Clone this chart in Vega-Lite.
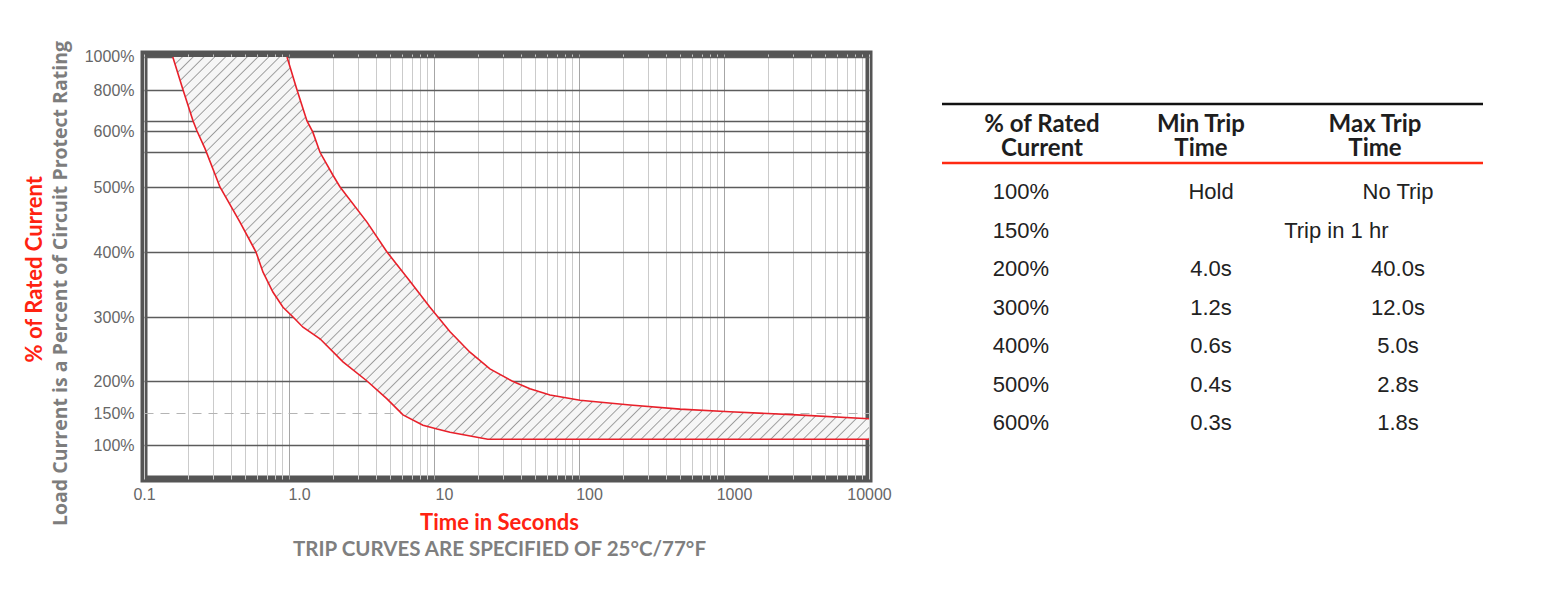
{
"$schema": "https://vega.github.io/schema/vega-lite/v6.json",
"padding": {"left": 23, "top": 36, "right": 60, "bottom": 20},
"background": "white",
"bounds": "flush",
"spacing": 73,
"config": {"view": {"stroke": null}, "font": "Liberation Sans"},
"title": {"text": "% of Rated Current", "orient": "left", "anchor": "middle", "font": "Lato", "fontSize": 22, "fontWeight": "bold", "color": "#ff2211", "offset": 0, "dx": 31},
"datasets": {
"band": [
{"current":1000,"tmin":0.158,"tmax":0.969},
{"current":800,"tmin":0.186,"tmax":1.136},
{"current":649,"tmin":0.218,"tmax":1.33},
{"current":600,"tmin":0.232,"tmax":1.46},
{"current":562,"tmin":0.267,"tmax":1.636},
{"current":521,"tmin":0.309,"tmax":2.01},
{"current":500,"tmin":0.334,"tmax":2.25},
{"current":446,"tmin":0.459,"tmax":3.45},
{"current":400,"tmin":0.592,"tmax":4.74},
{"current":355,"tmin":0.705,"tmax":6.83},
{"current":315,"tmin":0.909,"tmax":9.38},
{"current":300,"tmin":1.066,"tmax":10.66},
{"current":277,"tmin":1.40,"tmax":12.9},
{"current":245,"tmin":2.01,"tmax":17.7},
{"current":219,"tmin":2.72,"tmax":24.3},
{"current":200,"tmin":3.45,"tmax":34.5},
{"current":188,"tmin":3.98,"tmax":45.9},
{"current":178,"tmin":4.45,"tmax":63.1},
{"current":170,"tmin":4.83,"tmax":101.7},
{"current":162,"tmin":5.26,"tmax":225},
{"current":156,"tmin":5.56,"tmax":498},
{"current":152,"tmin":5.83,"tmax":1100},
{"current":147,"tmin":6.11,"tmax":3185},
{"current":141,"tmin":6.93,"tmax":10000},
{"current":131,"tmin":8.39,"tmax":10000},
{"current":125,"tmin":10.5,"tmax":10000},
{"current":120,"tmin":12.9,"tmax":10000},
{"current":109,"tmin":23.5,"tmax":10000}
],
"minCurve": [
{"t":0.158,"current":1000},{"t":0.186,"current":800},{"t":0.218,"current":649},{"t":0.232,"current":600},
{"t":0.264,"current":568},{"t":0.334,"current":500},{"t":0.459,"current":446},{"t":0.592,"current":400},
{"t":0.662,"current":369},{"t":0.776,"current":338},{"t":0.909,"current":315},{"t":1.066,"current":300},
{"t":1.249,"current":284},{"t":1.636,"current":266},{"t":2.357,"current":230},{"t":3.45,"current":200},
{"t":4.74,"current":172},{"t":6.11,"current":147},{"t":8.39,"current":131},{"t":10.5,"current":125},
{"t":12.9,"current":120},{"t":23.5,"current":109},{"t":10000,"current":109}
],
"maxCurve": [
{"t":0.969,"current":1000},{"t":1.136,"current":800},{"t":1.33,"current":649},{"t":1.46,"current":598},
{"t":1.636,"current":562},{"t":2.01,"current":521},{"t":2.25,"current":500},{"t":3.45,"current":446},
{"t":4.74,"current":400},{"t":6.83,"current":355},{"t":9.38,"current":315},{"t":12.9,"current":277},
{"t":17.7,"current":245},{"t":24.3,"current":219},{"t":34.5,"current":200},{"t":45.9,"current":188},
{"t":63.1,"current":178},{"t":101.7,"current":170},{"t":225,"current":162.5},{"t":498,"current":156},
{"t":1100,"current":152},{"t":3185,"current":147},{"t":10000,"current":141}
],
"rules": [{"line":0,"kind":"top"},{"line":2,"kind":"sep"}],
"header": [
{"line":1,"col":1,"text":"% of Rated\nCurrent"},
{"line":1,"col":2,"text":"Min Trip\nTime"},
{"line":1,"col":3,"text":"Max Trip\nTime"}
],
"cells": [
{"line":3,"col":1,"text":"100%"},{"line":3,"col":2,"text":"Hold"},{"line":3,"col":3,"text":"No Trip"},
{"line":4,"col":1,"text":"150%"},{"line":4,"col":2.67,"text":"Trip in 1 hr"},
{"line":5,"col":1,"text":"200%"},{"line":5,"col":2,"text":"4.0s"},{"line":5,"col":3,"text":"40.0s"},
{"line":6,"col":1,"text":"300%"},{"line":6,"col":2,"text":"1.2s"},{"line":6,"col":3,"text":"12.0s"},
{"line":7,"col":1,"text":"400%"},{"line":7,"col":2,"text":"0.6s"},{"line":7,"col":3,"text":"5.0s"},
{"line":8,"col":1,"text":"500%"},{"line":8,"col":2,"text":"0.4s"},{"line":8,"col":3,"text":"2.8s"},
{"line":9,"col":1,"text":"600%"},{"line":9,"col":2,"text":"0.3s"},{"line":9,"col":3,"text":"1.8s"}
]
},
"hconcat": [
{
"width": 725,
"height": 425,
"view": {"stroke": "#555555", "strokeWidth": 7},
"title": {"text": "Time in Seconds", "subtitle": "TRIP CURVES ARE SPECIFIED OF 25°C/77°F", "orient": "bottom", "anchor": "middle", "dx": -7, "font": "Lato", "fontSize": 22, "fontWeight": "bold", "color": "#ff2211", "subtitleFont": "Lato", "subtitleFontSize": 20.5, "subtitleFontWeight": "bold", "subtitleColor": "#7f7f7f", "offset": -13, "subtitlePadding": 5},
"layer": [
{
"data": {"name": "band"},
"mark": {"type": "area", "orient": "horizontal", "clip": true, "color": {"gradient": "linear", "x1": 0, "y1": 0, "x2": 1.19, "y2": 0.656, "stops": [
{"offset":0.00,"color":"#f6f6f6"},{"offset":0.0075,"color":"#f6f6f6"},{"offset":0.0088,"color":"#9c9c9c"},
{"offset":0.01,"color":"#f6f6f6"},{"offset":0.0175,"color":"#f6f6f6"},{"offset":0.0188,"color":"#9c9c9c"},
{"offset":0.02,"color":"#f6f6f6"},{"offset":0.0275,"color":"#f6f6f6"},{"offset":0.0288,"color":"#9c9c9c"},
{"offset":0.03,"color":"#f6f6f6"},{"offset":0.0375,"color":"#f6f6f6"},{"offset":0.0388,"color":"#9c9c9c"},
{"offset":0.04,"color":"#f6f6f6"},{"offset":0.0475,"color":"#f6f6f6"},{"offset":0.0488,"color":"#9c9c9c"},
{"offset":0.05,"color":"#f6f6f6"},{"offset":0.0575,"color":"#f6f6f6"},{"offset":0.0588,"color":"#9c9c9c"},
{"offset":0.06,"color":"#f6f6f6"},{"offset":0.0675,"color":"#f6f6f6"},{"offset":0.0688,"color":"#9c9c9c"},
{"offset":0.07,"color":"#f6f6f6"},{"offset":0.0775,"color":"#f6f6f6"},{"offset":0.0788,"color":"#9c9c9c"},
{"offset":0.08,"color":"#f6f6f6"},{"offset":0.0875,"color":"#f6f6f6"},{"offset":0.0888,"color":"#9c9c9c"},
{"offset":0.09,"color":"#f6f6f6"},{"offset":0.0975,"color":"#f6f6f6"},{"offset":0.0988,"color":"#9c9c9c"},
{"offset":0.10,"color":"#f6f6f6"},{"offset":0.1075,"color":"#f6f6f6"},{"offset":0.1088,"color":"#9c9c9c"},
{"offset":0.11,"color":"#f6f6f6"},{"offset":0.1175,"color":"#f6f6f6"},{"offset":0.1188,"color":"#9c9c9c"},
{"offset":0.12,"color":"#f6f6f6"},{"offset":0.1275,"color":"#f6f6f6"},{"offset":0.1288,"color":"#9c9c9c"},
{"offset":0.13,"color":"#f6f6f6"},{"offset":0.1375,"color":"#f6f6f6"},{"offset":0.1388,"color":"#9c9c9c"},
{"offset":0.14,"color":"#f6f6f6"},{"offset":0.1475,"color":"#f6f6f6"},{"offset":0.1488,"color":"#9c9c9c"},
{"offset":0.15,"color":"#f6f6f6"},{"offset":0.1575,"color":"#f6f6f6"},{"offset":0.1588,"color":"#9c9c9c"},
{"offset":0.16,"color":"#f6f6f6"},{"offset":0.1675,"color":"#f6f6f6"},{"offset":0.1688,"color":"#9c9c9c"},
{"offset":0.17,"color":"#f6f6f6"},{"offset":0.1775,"color":"#f6f6f6"},{"offset":0.1788,"color":"#9c9c9c"},
{"offset":0.18,"color":"#f6f6f6"},{"offset":0.1875,"color":"#f6f6f6"},{"offset":0.1888,"color":"#9c9c9c"},
{"offset":0.19,"color":"#f6f6f6"},{"offset":0.1975,"color":"#f6f6f6"},{"offset":0.1988,"color":"#9c9c9c"},
{"offset":0.20,"color":"#f6f6f6"},{"offset":0.2075,"color":"#f6f6f6"},{"offset":0.2088,"color":"#9c9c9c"},
{"offset":0.21,"color":"#f6f6f6"},{"offset":0.2175,"color":"#f6f6f6"},{"offset":0.2188,"color":"#9c9c9c"},
{"offset":0.22,"color":"#f6f6f6"},{"offset":0.2275,"color":"#f6f6f6"},{"offset":0.2288,"color":"#9c9c9c"},
{"offset":0.23,"color":"#f6f6f6"},{"offset":0.2375,"color":"#f6f6f6"},{"offset":0.2388,"color":"#9c9c9c"},
{"offset":0.24,"color":"#f6f6f6"},{"offset":0.2475,"color":"#f6f6f6"},{"offset":0.2488,"color":"#9c9c9c"},
{"offset":0.25,"color":"#f6f6f6"},{"offset":0.2575,"color":"#f6f6f6"},{"offset":0.2588,"color":"#9c9c9c"},
{"offset":0.26,"color":"#f6f6f6"},{"offset":0.2675,"color":"#f6f6f6"},{"offset":0.2688,"color":"#9c9c9c"},
{"offset":0.27,"color":"#f6f6f6"},{"offset":0.2775,"color":"#f6f6f6"},{"offset":0.2788,"color":"#9c9c9c"},
{"offset":0.28,"color":"#f6f6f6"},{"offset":0.2875,"color":"#f6f6f6"},{"offset":0.2888,"color":"#9c9c9c"},
{"offset":0.29,"color":"#f6f6f6"},{"offset":0.2975,"color":"#f6f6f6"},{"offset":0.2988,"color":"#9c9c9c"},
{"offset":0.30,"color":"#f6f6f6"},{"offset":0.3075,"color":"#f6f6f6"},{"offset":0.3088,"color":"#9c9c9c"},
{"offset":0.31,"color":"#f6f6f6"},{"offset":0.3175,"color":"#f6f6f6"},{"offset":0.3188,"color":"#9c9c9c"},
{"offset":0.32,"color":"#f6f6f6"},{"offset":0.3275,"color":"#f6f6f6"},{"offset":0.3288,"color":"#9c9c9c"},
{"offset":0.33,"color":"#f6f6f6"},{"offset":0.3375,"color":"#f6f6f6"},{"offset":0.3388,"color":"#9c9c9c"},
{"offset":0.34,"color":"#f6f6f6"},{"offset":0.3475,"color":"#f6f6f6"},{"offset":0.3488,"color":"#9c9c9c"},
{"offset":0.35,"color":"#f6f6f6"},{"offset":0.3575,"color":"#f6f6f6"},{"offset":0.3588,"color":"#9c9c9c"},
{"offset":0.36,"color":"#f6f6f6"},{"offset":0.3675,"color":"#f6f6f6"},{"offset":0.3688,"color":"#9c9c9c"},
{"offset":0.37,"color":"#f6f6f6"},{"offset":0.3775,"color":"#f6f6f6"},{"offset":0.3788,"color":"#9c9c9c"},
{"offset":0.38,"color":"#f6f6f6"},{"offset":0.3875,"color":"#f6f6f6"},{"offset":0.3888,"color":"#9c9c9c"},
{"offset":0.39,"color":"#f6f6f6"},{"offset":0.3975,"color":"#f6f6f6"},{"offset":0.3988,"color":"#9c9c9c"},
{"offset":0.40,"color":"#f6f6f6"},{"offset":0.4075,"color":"#f6f6f6"},{"offset":0.4088,"color":"#9c9c9c"},
{"offset":0.41,"color":"#f6f6f6"},{"offset":0.4175,"color":"#f6f6f6"},{"offset":0.4188,"color":"#9c9c9c"},
{"offset":0.42,"color":"#f6f6f6"},{"offset":0.4275,"color":"#f6f6f6"},{"offset":0.4288,"color":"#9c9c9c"},
{"offset":0.43,"color":"#f6f6f6"},{"offset":0.4375,"color":"#f6f6f6"},{"offset":0.4388,"color":"#9c9c9c"},
{"offset":0.44,"color":"#f6f6f6"},{"offset":0.4475,"color":"#f6f6f6"},{"offset":0.4488,"color":"#9c9c9c"},
{"offset":0.45,"color":"#f6f6f6"},{"offset":0.4575,"color":"#f6f6f6"},{"offset":0.4588,"color":"#9c9c9c"},
{"offset":0.46,"color":"#f6f6f6"},{"offset":0.4675,"color":"#f6f6f6"},{"offset":0.4688,"color":"#9c9c9c"},
{"offset":0.47,"color":"#f6f6f6"},{"offset":0.4775,"color":"#f6f6f6"},{"offset":0.4788,"color":"#9c9c9c"},
{"offset":0.48,"color":"#f6f6f6"},{"offset":0.4875,"color":"#f6f6f6"},{"offset":0.4888,"color":"#9c9c9c"},
{"offset":0.49,"color":"#f6f6f6"},{"offset":0.4975,"color":"#f6f6f6"},{"offset":0.4988,"color":"#9c9c9c"},
{"offset":0.50,"color":"#f6f6f6"},{"offset":0.5075,"color":"#f6f6f6"},{"offset":0.5088,"color":"#9c9c9c"},
{"offset":0.51,"color":"#f6f6f6"},{"offset":0.5175,"color":"#f6f6f6"},{"offset":0.5188,"color":"#9c9c9c"},
{"offset":0.52,"color":"#f6f6f6"},{"offset":0.5275,"color":"#f6f6f6"},{"offset":0.5288,"color":"#9c9c9c"},
{"offset":0.53,"color":"#f6f6f6"},{"offset":0.5375,"color":"#f6f6f6"},{"offset":0.5388,"color":"#9c9c9c"},
{"offset":0.54,"color":"#f6f6f6"},{"offset":0.5475,"color":"#f6f6f6"},{"offset":0.5488,"color":"#9c9c9c"},
{"offset":0.55,"color":"#f6f6f6"},{"offset":0.5575,"color":"#f6f6f6"},{"offset":0.5588,"color":"#9c9c9c"},
{"offset":0.56,"color":"#f6f6f6"},{"offset":0.5675,"color":"#f6f6f6"},{"offset":0.5688,"color":"#9c9c9c"},
{"offset":0.57,"color":"#f6f6f6"},{"offset":0.5775,"color":"#f6f6f6"},{"offset":0.5788,"color":"#9c9c9c"},
{"offset":0.58,"color":"#f6f6f6"},{"offset":0.5875,"color":"#f6f6f6"},{"offset":0.5888,"color":"#9c9c9c"},
{"offset":0.59,"color":"#f6f6f6"},{"offset":0.5975,"color":"#f6f6f6"},{"offset":0.5988,"color":"#9c9c9c"},
{"offset":0.60,"color":"#f6f6f6"},{"offset":0.6075,"color":"#f6f6f6"},{"offset":0.6088,"color":"#9c9c9c"},
{"offset":0.61,"color":"#f6f6f6"},{"offset":0.6175,"color":"#f6f6f6"},{"offset":0.6188,"color":"#9c9c9c"},
{"offset":0.62,"color":"#f6f6f6"},{"offset":0.6275,"color":"#f6f6f6"},{"offset":0.6288,"color":"#9c9c9c"},
{"offset":0.63,"color":"#f6f6f6"},{"offset":0.6375,"color":"#f6f6f6"},{"offset":0.6388,"color":"#9c9c9c"},
{"offset":0.64,"color":"#f6f6f6"},{"offset":0.6475,"color":"#f6f6f6"},{"offset":0.6488,"color":"#9c9c9c"},
{"offset":0.65,"color":"#f6f6f6"},{"offset":0.6575,"color":"#f6f6f6"},{"offset":0.6588,"color":"#9c9c9c"},
{"offset":0.66,"color":"#f6f6f6"},{"offset":0.6675,"color":"#f6f6f6"},{"offset":0.6688,"color":"#9c9c9c"},
{"offset":0.67,"color":"#f6f6f6"},{"offset":0.6775,"color":"#f6f6f6"},{"offset":0.6788,"color":"#9c9c9c"},
{"offset":0.68,"color":"#f6f6f6"},{"offset":0.6875,"color":"#f6f6f6"},{"offset":0.6888,"color":"#9c9c9c"},
{"offset":0.69,"color":"#f6f6f6"},{"offset":0.6975,"color":"#f6f6f6"},{"offset":0.6988,"color":"#9c9c9c"},
{"offset":0.70,"color":"#f6f6f6"},{"offset":0.7075,"color":"#f6f6f6"},{"offset":0.7088,"color":"#9c9c9c"},
{"offset":0.71,"color":"#f6f6f6"},{"offset":0.7175,"color":"#f6f6f6"},{"offset":0.7188,"color":"#9c9c9c"},
{"offset":0.72,"color":"#f6f6f6"},{"offset":0.7275,"color":"#f6f6f6"},{"offset":0.7288,"color":"#9c9c9c"},
{"offset":0.73,"color":"#f6f6f6"},{"offset":0.7375,"color":"#f6f6f6"},{"offset":0.7388,"color":"#9c9c9c"},
{"offset":0.74,"color":"#f6f6f6"},{"offset":0.7475,"color":"#f6f6f6"},{"offset":0.7488,"color":"#9c9c9c"},
{"offset":0.75,"color":"#f6f6f6"},{"offset":0.7575,"color":"#f6f6f6"},{"offset":0.7588,"color":"#9c9c9c"},
{"offset":0.76,"color":"#f6f6f6"},{"offset":0.7675,"color":"#f6f6f6"},{"offset":0.7688,"color":"#9c9c9c"},
{"offset":0.77,"color":"#f6f6f6"},{"offset":0.7775,"color":"#f6f6f6"},{"offset":0.7788,"color":"#9c9c9c"},
{"offset":0.78,"color":"#f6f6f6"},{"offset":0.7875,"color":"#f6f6f6"},{"offset":0.7888,"color":"#9c9c9c"},
{"offset":0.79,"color":"#f6f6f6"},{"offset":0.7975,"color":"#f6f6f6"},{"offset":0.7988,"color":"#9c9c9c"},
{"offset":0.80,"color":"#f6f6f6"},{"offset":0.8075,"color":"#f6f6f6"},{"offset":0.8088,"color":"#9c9c9c"},
{"offset":0.81,"color":"#f6f6f6"},{"offset":0.8175,"color":"#f6f6f6"},{"offset":0.8188,"color":"#9c9c9c"},
{"offset":0.82,"color":"#f6f6f6"},{"offset":0.8275,"color":"#f6f6f6"},{"offset":0.8288,"color":"#9c9c9c"},
{"offset":0.83,"color":"#f6f6f6"},{"offset":0.8375,"color":"#f6f6f6"},{"offset":0.8388,"color":"#9c9c9c"},
{"offset":0.84,"color":"#f6f6f6"},{"offset":0.8475,"color":"#f6f6f6"},{"offset":0.8488,"color":"#9c9c9c"},
{"offset":0.85,"color":"#f6f6f6"},{"offset":0.8575,"color":"#f6f6f6"},{"offset":0.8588,"color":"#9c9c9c"},
{"offset":0.86,"color":"#f6f6f6"},{"offset":0.8675,"color":"#f6f6f6"},{"offset":0.8688,"color":"#9c9c9c"},
{"offset":0.87,"color":"#f6f6f6"},{"offset":0.8775,"color":"#f6f6f6"},{"offset":0.8788,"color":"#9c9c9c"},
{"offset":0.88,"color":"#f6f6f6"},{"offset":0.8875,"color":"#f6f6f6"},{"offset":0.8888,"color":"#9c9c9c"},
{"offset":0.89,"color":"#f6f6f6"},{"offset":0.8975,"color":"#f6f6f6"},{"offset":0.8988,"color":"#9c9c9c"},
{"offset":0.90,"color":"#f6f6f6"},{"offset":0.9075,"color":"#f6f6f6"},{"offset":0.9088,"color":"#9c9c9c"},
{"offset":0.91,"color":"#f6f6f6"},{"offset":0.9175,"color":"#f6f6f6"},{"offset":0.9188,"color":"#9c9c9c"},
{"offset":0.92,"color":"#f6f6f6"},{"offset":0.9275,"color":"#f6f6f6"},{"offset":0.9288,"color":"#9c9c9c"},
{"offset":0.93,"color":"#f6f6f6"},{"offset":0.9375,"color":"#f6f6f6"},{"offset":0.9388,"color":"#9c9c9c"},
{"offset":0.94,"color":"#f6f6f6"},{"offset":0.9475,"color":"#f6f6f6"},{"offset":0.9488,"color":"#9c9c9c"},
{"offset":0.95,"color":"#f6f6f6"},{"offset":0.9575,"color":"#f6f6f6"},{"offset":0.9588,"color":"#9c9c9c"},
{"offset":0.96,"color":"#f6f6f6"},{"offset":0.9675,"color":"#f6f6f6"},{"offset":0.9688,"color":"#9c9c9c"},
{"offset":0.97,"color":"#f6f6f6"},{"offset":0.9775,"color":"#f6f6f6"},{"offset":0.9788,"color":"#9c9c9c"},
{"offset":0.98,"color":"#f6f6f6"},{"offset":0.9875,"color":"#f6f6f6"},{"offset":0.9888,"color":"#9c9c9c"},
{"offset":0.99,"color":"#f6f6f6"},{"offset":0.9975,"color":"#f6f6f6"},{"offset":0.9988,"color":"#9c9c9c"},
{"offset":1,"color":"#f6f6f6"}
]}},
"encoding": {
"y": {"field": "current", "type": "quantitative",
"scale": {"type": "linear", "domain": [47,100,200,300,400,500,600,800,1018], "range": [425,391,327,263,198,133,77,36,0], "nice": false, "zero": false},
"axis": {"values": [100,150,200,300,400,500,562,600,649,800,1000], "labelExpr": "datum.value == 562 || datum.value == 649 ? '' : datum.value + '%'", "ticks": false, "domain": false, "labelPadding": 10, "labelFontSize": 16, "labelColor": "#666666", "labelFont": "Liberation Sans", "labelOverlap": false,
"gridColor": {"condition": {"test": "datum.value == 150", "value": "#b4b4b4"}, "value": "#5c5c5c"},
"gridDash": {"condition": {"test": "datum.value == 150", "value": [9, 7]}, "value": []},
"gridWidth": {"condition": {"test": "datum.value == 150", "value": 1}, "value": 1.6},
"title": "Load Current is a Percent of Circuit Protect Rating", "titleFont": "Open Sans", "titleFontSize": 19.5, "titleFontWeight": "bold", "titleColor": "#7d7d7d", "titlePadding": 14, "titleY": 229}},
"x": {"field": "tmin", "type": "quantitative",
"scale": {"type": "log", "domain": [0.1, 10000], "nice": false},
"axis": {"values": [0.1,0.2,0.3,0.4,0.5,0.6,0.7,0.8,0.9,1,2,3,4,5,6,7,8,9,10,20,30,40,50,60,70,80,90,100,200,300,400,500,600,700,800,900,1000,2000,3000,4000,5000,6000,7000,8000,9000,10000],
"labelExpr": "datum.value == 0.1 ? '0.1' : datum.value == 1 ? '1.0' : (datum.value == 10 || datum.value == 100 || datum.value == 1000 || datum.value == 10000) ? format(datum.value, 'd') : ''",
"ticks": false, "domain": false, "labelPadding": 7, "labelFontSize": 16, "labelColor": "#666666", "labelFont": "Liberation Sans", "labelFlush": false, "labelOverlap": false,
"labelOffset": {"condition": {"test": "datum.value >= 1 && datum.value <= 1000", "value": 10}, "value": 0},
"gridColor": {"condition": {"test": "datum.value == 1 || datum.value == 10 || datum.value == 100 || datum.value == 1000", "value": "#a6a6a6"}, "value": "#cbcbcb"},
"gridWidth": 1, "title": null}},
"x2": {"field": "tmax"}
}
},
{
"data": {"name": "minCurve"},
"mark": {"type": "line", "color": "#e8202a", "strokeWidth": 1.6},
"encoding": {
"x": {"field": "t", "type": "quantitative", "scale": {"type": "log", "domain": [0.1, 10000], "nice": false}},
"y": {"field": "current", "type": "quantitative", "scale": {"type": "linear", "domain": [47,100,200,300,400,500,600,800,1018], "range": [425,391,327,263,198,133,77,36,0], "nice": false, "zero": false}},
"order": {"field": "t"}
}
},
{
"data": {"name": "maxCurve"},
"mark": {"type": "line", "color": "#e8202a", "strokeWidth": 1.6},
"encoding": {
"x": {"field": "t", "type": "quantitative", "scale": {"type": "log", "domain": [0.1, 10000], "nice": false}},
"y": {"field": "current", "type": "quantitative", "scale": {"type": "linear", "domain": [47,100,200,300,400,500,600,800,1018], "range": [425,391,327,263,198,133,77,36,0], "nice": false, "zero": false}},
"order": {"field": "t"}
}
}
]
},
{
"width": 541,
"height": 425,
"layer": [
{
"data": {"name": "rules"},
"mark": {"type": "rule", "strokeWidth": 2.5},
"encoding": {
"y": {"field": "line", "type": "quantitative", "scale": {"type": "linear", "domain": [0,1,2,3,9], "range": [50,71,109,138,369], "nice": false, "zero": false}, "axis": null},
"color": {"field": "kind", "type": "nominal", "scale": {"domain": ["top", "sep"], "range": ["#111111", "#ff2a12"]}, "legend": null}
}
},
{
"data": {"name": "header"},
"mark": {"type": "text", "font": "Lato", "fontSize": 24, "fontWeight": "bold", "color": "#1e1e1e", "lineBreak": "\n", "lineHeight": 24, "align": "center", "baseline": "middle"},
"encoding": {
"x": {"field": "col", "type": "quantitative", "scale": {"type": "linear", "domain": [1,2,3], "range": [100,259,433], "nice": false, "zero": false}, "axis": null},
"y": {"field": "line", "type": "quantitative", "scale": {"type": "linear", "domain": [0,1,2,3,9], "range": [50,71,109,138,369], "nice": false, "zero": false}, "axis": null},
"text": {"field": "text"}
}
},
{
"data": {"name": "cells"},
"mark": {"type": "text", "font": "Liberation Sans", "fontSize": 22, "color": "#222222", "align": "center", "baseline": "middle"},
"encoding": {
"x": {"field": "col", "type": "quantitative", "scale": {"type": "linear", "domain": [1,2,3], "range": [79,269,456], "nice": false, "zero": false}, "axis": null},
"y": {"field": "line", "type": "quantitative", "scale": {"type": "linear", "domain": [0,1,2,3,9], "range": [50,71,109,138,369], "nice": false, "zero": false}, "axis": null},
"text": {"field": "text"}
}
}
],
"resolve": {"scale": {"x": "independent"}}
}
]
}
